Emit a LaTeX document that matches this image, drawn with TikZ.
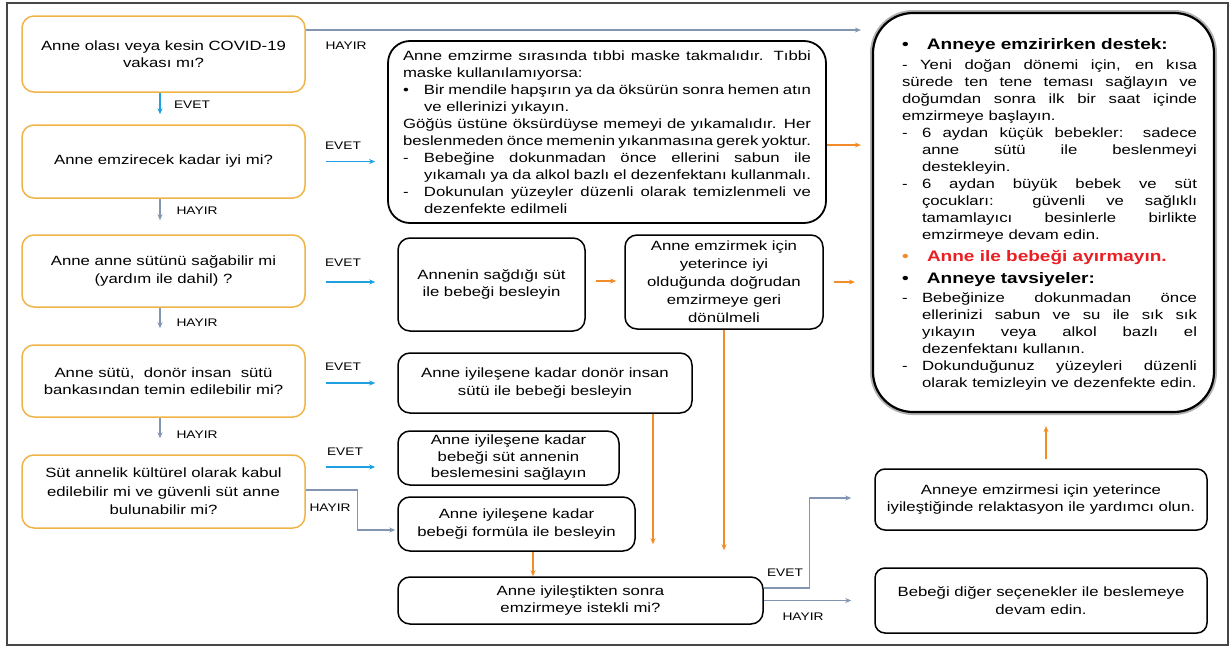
\documentclass[tikz,border=0pt]{standalone}
\usepackage{fontspec}
\setmainfont{Liberation Sans}[FakeStretch=1.25]
\usetikzlibrary{arrows.meta}
\definecolor{gold}{RGB}{240,180,70}
\definecolor{evetblue}{RGB}{30,160,225}
\definecolor{hayirgray}{RGB}{130,150,178}
\definecolor{orng}{RGB}{242,140,40}
\definecolor{redtxt}{RGB}{235,30,35}
\definecolor{framec}{RGB}{70,70,70}
\newcommand\jline[1]{\noindent\hbox to\hsize{#1}\par}
\newcommand\rline[1]{\noindent\hbox to\hsize{#1\hfil}\par}
\newcommand\jlinei[3]{\noindent\hbox to\hsize{\hbox to #1{#2\hfil}#3}\par}
\newcommand\rlinei[3]{\noindent\hbox to\hsize{\hbox to #1{#2\hfil}#3\hfil}\par}
\newcommand\jlinec[2]{\noindent\hbox to\hsize{\kern#1\relax #2}\par}
\newcommand\rlinec[2]{\noindent\hbox to\hsize{\kern#1\relax #2\hfil}\par}
\tikzset{
  qbox/.style={draw=gold, line width=1.5pt, rounded corners=12pt, fill=white, align=center, inner sep=0pt,
    font={\fontsize{13.4}{17.5}\selectfont}},
  abox/.style={draw=black, line width=1.5pt, rounded corners=12pt, fill=white, align=center, inner sep=0pt,
    font={\fontsize{13.4}{17.5}\selectfont}},
  tip/.style={-{Stealth[length=6pt,width=5pt]}},
  evet/.style={draw=evetblue, line width=1.6pt, tip},
  hayir/.style={draw=hayirgray, line width=1.3pt, tip},
  oarr/.style={draw=orng, line width=1.6pt, tip},
  lbl/.style={font={\fontsize{11}{13}\selectfont}, inner sep=0pt},
  jtext/.style={align=justify, inner sep=0pt, font={\fontsize{13.4}{17}\selectfont\parindent=0pt}},
}
\begin{document}
\begin{tikzpicture}[x=1pt,y=-1pt]
\useasboundingbox (0,0) rectangle (1232,648);
\draw[framec, line width=1.3pt] (7,3) rectangle (1228,645);

% left column questions
\node[qbox, minimum width=283pt, minimum height=76pt] (b1) at (163.5,54) {Anne olası veya kesin COVID-19\\vakası mı?};
\node[qbox, minimum width=283pt, minimum height=73pt] (b2) at (163.5,161.5) {Anne emzirecek kadar iyi mi?};
\node[qbox, minimum width=283pt, minimum height=72pt] (b3) at (163.5,271) {Anne anne sütünü sağabilir mi\\(yardım ile dahil) ?};
\node[qbox, minimum width=283pt, minimum height=72pt] (b4) at (163.5,381) {Anne sütü, \ donör insan \ sütü\\bankasından temin edilebilir mi?};
\node[qbox, minimum width=283pt, minimum height=73pt, font={\fontsize{13.4}{18.5}\selectfont}] (b5) at (163.5,491.5) {Süt annelik kültürel olarak kabul\\edilebilir mi ve güvenli süt anne\\bulunabilir mi?};

% middle boxes
\node[draw=black, fill=white, rounded corners=22pt, line width=1.8pt, minimum width=438pt, minimum height=182pt, text width=408pt, jtext] (m1) at (607,132) {%
\jline{Anne emzirme sırasında tıbbi maske takmalıdır. Tıbbi}
\rline{maske kullanılamıyorsa:}
\jlinei{21pt}{\textbullet}{Bir mendile hapşırın ya da öksürün sonra hemen atın}
\rlinec{21pt}{ve ellerinizi yıkayın.}
\jline{Göğüs üstüne öksürdüyse memeyi de yıkamalıdır. Her}
\jline{beslenmeden önce memenin yıkanmasına gerek yoktur.}
\jlinei{21pt}{-}{Bebeğine dokunmadan önce ellerini sabun ile}
\jlinec{21pt}{yıkamalı ya da alkol bazlı el dezenfektanı kullanmalı.}
\jlinei{21pt}{-}{Dokunulan yüzeyler düzenli olarak temizlenmeli ve}
\rlinec{21pt}{dezenfekte edilmeli}};
\node[abox, minimum width=187pt, minimum height=93pt] (m2) at (491.5,284.5) {Annenin sağdığı süt\\ile bebeği besleyin};
\node[abox, minimum width=198pt, minimum height=94pt, font={\fontsize{13.4}{18}\selectfont}] (m3) at (724,282) {Anne emzirmek için\\yeterince iyi\\olduğunda doğrudan\\emzirmeye geri\\dönülmeli};
\node[abox, minimum width=294pt, minimum height=60pt] (m4) at (545,383) {Anne iyileşene kadar donör insan\\sütü ile bebeği besleyin};
\node[abox, minimum width=221pt, minimum height=54pt, font={\fontsize{13.4}{16.5}\selectfont}] (m5) at (508.5,458) {Anne iyileşene kadar\\bebeği süt annenin\\beslemesini sağlayın};
\node[abox, minimum width=237pt, minimum height=54pt] (m6) at (516.5,524) {Anne iyileşene kadar\\bebeği formüla ile besleyin};
\node[abox, minimum width=365pt, minimum height=47pt] (m7) at (580.5,600.5) {Anne iyileştikten sonra\\emzirmeye istekli mi?};

% right boxes
\node[draw=black, line width=2.2pt, rounded corners=40pt, fill=white, minimum width=341pt, minimum height=399pt,
  preaction={draw=black!30, line width=6pt}] (r1) at (1043.5,212.5) {};
\node[jtext, text width=295pt] (r1t) at ([shift={(6,2)}]r1.center) {%
{\fontsize{15.2}{20}\selectfont\bfseries\rlinei{25pt}{\textbullet}{Anneye emzirirken destek:}}
\vspace{3pt}
\jline{- Yeni doğan dönemi için, en kısa}
\jline{sürede ten tene teması sağlayın ve}
\jline{doğumdan sonra ilk bir saat içinde}
\rline{emzirmeye başlayın.}
\jlinei{20pt}{-}{6 aydan küçük bebekler: sadece}
\jlinec{20pt}{anne sütü ile beslenmeyi}
\rlinec{20pt}{destekleyin.}
\jlinei{20pt}{-}{6 aydan büyük bebek ve süt}
\jlinec{20pt}{çocukları: güvenli ve sağlıklı}
\jlinec{20pt}{tamamlayıcı besinlerle birlikte}
\rlinec{20pt}{emzirmeye devam edin.}
{\fontsize{15.2}{22}\selectfont\bfseries\rlinei{25pt}{\textcolor{orng}{\textbullet}}{\textcolor{redtxt}{Anne ile bebeği ayırmayın.}}}
{\fontsize{15.2}{22}\selectfont\bfseries\rlinei{25pt}{\textbullet}{Anneye tavsiyeler:}}
\vspace{2pt}
\jlinei{20pt}{-}{Bebeğinize dokunmadan önce}
\jlinec{20pt}{ellerinizi sabun ve su ile sık sık}
\jlinec{20pt}{yıkayın veya alkol bazlı el}
\rlinec{20pt}{dezenfektanı kullanın.}
\jlinei{20pt}{-}{Dokunduğunuz yüzeyleri düzenli}
\rlinec{20pt}{olarak temizleyin ve dezenfekte edin.}};
\node[abox, rounded corners=10pt, minimum width=332pt, minimum height=61pt] (r2) at (1041,499.5) {Anneye emzirmesi için yeterince\\iyileştiğinde relaktasyon ile yardımcı olun.};
\node[abox, rounded corners=10pt, minimum width=332pt, minimum height=65pt] (r3) at (1041,600.5) {Bebeği diğer seçenekler ile beslemeye\\devam edin.};

% vertical arrows in left column
\draw[evet, shorten >=10pt] ([shift={(-3.5,0)}]b1.south) -- ([shift={(-3.5,0)}]b2.north);
\draw[hayir, shorten >=14pt] ([shift={(-3.5,0)}]b2.south) -- ([shift={(-3.5,0)}]b3.north);
\draw[hayir, shorten >=16pt] ([shift={(-3.5,0)}]b3.south) -- ([shift={(-3.5,0)}]b4.north);
\draw[hayir, shorten >=16pt] ([shift={(-3.5,0)}]b4.south) -- ([shift={(-3.5,0)}]b5.north);

% HAYIR top line
\coordinate (h1s) at ([shift={(0,-24)}]b1.east);
\coordinate (h1e) at (h1s -| r1.west);
\draw[hayir] (h1s) -- ([shift={(-11,0)}]h1e);

% EVET arrows to the right
\coordinate (e2s) at ([shift={(20,0)}]b2.east);
\coordinate (e2e) at (e2s -| m1.west);
\draw[evet] (e2s) -- ([shift={(-12,0)}]e2e);
\coordinate (e3s) at ([shift={(20,11)}]b3.east);
\coordinate (e3e) at (e3s -| m2.west);
\draw[evet] (e3s) -- ([shift={(-22,0)}]e3e);
\coordinate (e4s) at ([shift={(20,2)}]b4.east);
\coordinate (e4e) at (e4s -| m4.west);
\draw[evet] (e4s) -- ([shift={(-22,0)}]e4e);
\coordinate (e5s) at ([shift={(20,-24.5)}]b5.east);
\coordinate (e5e) at (e5s -| m5.west);
\draw[evet] (e5s) -- ([shift={(-22,0)}]e5e);

% HAYIR from b5 to m6
\draw[hayir] ([shift={(0,-1.5)}]b5.east) -- ++(52,0) |- ([shift={(-2,6)}]m6.west);

% orange arrows
\coordinate (o1s) at ([shift={(0,13)}]m1.east);
\coordinate (o1e) at (o1s -| r1.west);
\draw[oarr] (o1s) -- ([shift={(-11,0)}]o1e);
\draw[oarr] ([shift={(10,-3.5)}]m2.east) -- ([shift={(-8,-1)}]m3.west);
\coordinate (o3s) at ([shift={(10,0)}]m3.east);
\coordinate (o3e) at (o3s -| r1.west);
\draw[oarr] (o3s) -- ([shift={(-17,0)}]o3e);
\coordinate (o4s) at ([shift={(108,0)}]m4.south);
\draw[oarr, shorten >=32pt] (o4s) -- (o4s |- m7.north);
\draw[oarr, shorten >=26pt] (m3.south) -- (m3.south |- m7.north);
\coordinate (o6s) at ([shift={(16.5,0)}]m6.south);
\draw[oarr] (o6s) -- (o6s |- m7.north);
\coordinate (o7s) at ([shift={(5,0)}]r2.north);
\draw[oarr, shorten <=9pt, shorten >=13pt] (o7s) -- (o7s |- r1.south);

% final branches
\draw[hayir] ([shift={(0,-12.5)}]m7.east) -- ++(46,0) |- ([shift={(-23,-1.5)}]r2.west);
\draw[hayir, shorten >=23pt] (m7.east) -- (m7.east -| r3.west);

% labels
\node[lbl] (l1) at (346,46) {HAYIR};
\node[lbl] (l2) at (192,105) {EVET};
\node[lbl] (l3) at (197,211) {HAYIR};
\node[lbl] (l4) at (197,323) {HAYIR};
\node[lbl] (l5) at (197,435) {HAYIR};
\node[lbl] (l6) at (343,146) {EVET};
\node[lbl] (l7) at (343,263) {EVET};
\node[lbl] (l8) at (343,367) {EVET};
\node[lbl] (l9) at (345,452) {EVET};
\node[lbl] (l10) at (330,508) {HAYIR};
\node[lbl] (l11) at (785,573) {EVET};
\node[lbl] (l12) at (803,617) {HAYIR};
\end{tikzpicture}
\end{document}
